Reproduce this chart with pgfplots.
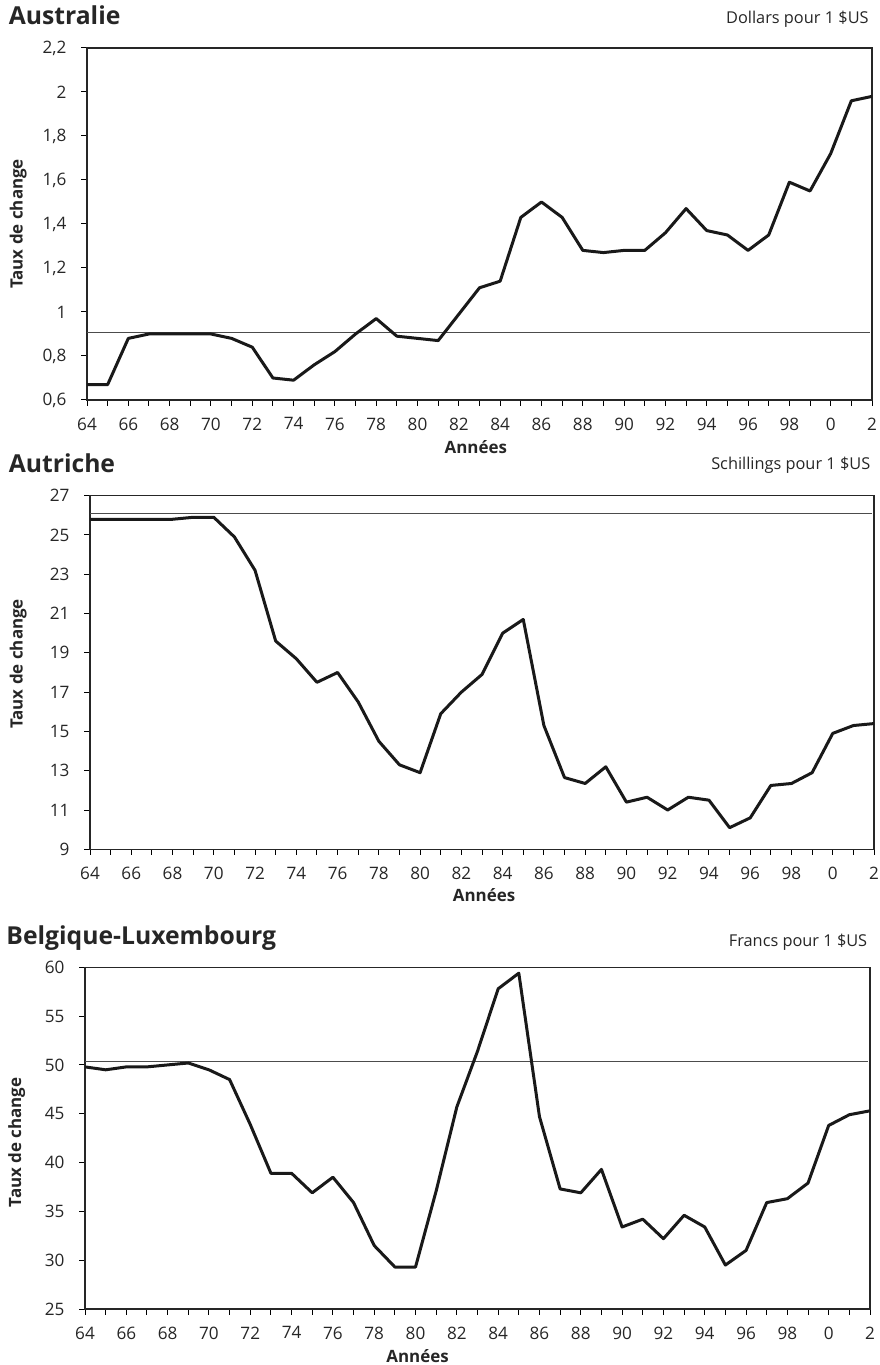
\documentclass[border=0pt]{standalone}
\usepackage{pgfplots}
\pgfplotsset{compat=1.18}
\usepackage{pgfplotstable}
\usepackage{fontspec}
\setmainfont{Open Sans}

\pgfplotstableread{
year val
64 0.67
65 0.67
66 0.88
67 0.90
68 0.90
69 0.90
70 0.90
71 0.88
72 0.84
73 0.70
74 0.69
75 0.76
76 0.82
77 0.90
78 0.97
79 0.89
80 0.88
81 0.87
82 0.99
83 1.11
84 1.14
85 1.43
86 1.50
87 1.43
88 1.28
89 1.27
90 1.28
91 1.28
92 1.36
93 1.47
94 1.37
95 1.35
96 1.28
97 1.35
98 1.59
99 1.55
100 1.72
101 1.96
102 1.98
}\australie

\pgfplotstableread{
year val
64 25.8
65 25.8
66 25.8
67 25.8
68 25.8
69 25.9
70 25.9
71 24.9
72 23.2
73 19.6
74 18.7
75 17.5
76 18.0
77 16.5
78 14.5
79 13.3
80 12.9
81 15.9
82 17.0
83 17.9
84 20.0
85 20.7
86 15.3
87 12.65
88 12.35
89 13.2
90 11.4
91 11.65
92 11.0
93 11.65
94 11.5
95 10.1
96 10.6
97 12.25
98 12.35
99 12.9
100 14.9
101 15.3
102 15.4
}\autriche

\pgfplotstableread{
year val
64 49.8
65 49.5
66 49.8
67 49.8
68 50.0
69 50.2
70 49.5
71 48.5
72 43.9
73 38.9
74 38.9
75 36.9
76 38.5
77 35.9
78 31.5
79 29.3
80 29.3
81 37.1
82 45.7
83 51.4
84 57.8
85 59.4
86 44.7
87 37.3
88 36.9
89 39.3
90 33.4
91 34.2
92 32.2
93 34.6
94 33.4
95 29.5
96 31.0
97 35.9
98 36.3
99 37.9
100 43.8
101 44.9
102 45.3
}\belgique

\pgfplotsset{
  common/.style={
    scale only axis,
    anchor=south west,
    xmin=64, xmax=102,
    xtick={64,66,...,102},
    xticklabels={64,66,68,70,72,74,76,78,80,82,84,86,88,90,92,94,96,98,0,2},
    minor xtick={65,67,...,101},
    xtick pos=bottom, ytick pos=left,
    tick align=outside,
    major tick length=2.8bp, minor tick length=2.8bp,
    every tick/.style={black, line width=0.5bp},
    every minor tick/.style={black, line width=0.5bp},
    axis line style={black!85, line width=0.6bp},
    ticklabel style={font=\fontsize{8.6}{9}\selectfont, text=black!85},
    xticklabel style={yshift=-2.5bp},
    yticklabel style={xshift=-4bp},
    /pgf/number format/assume math mode=true,
    /pgf/number format/use comma,
  },
  dataline/.style={black!90, line width=1.5bp, line join=round},
  refline/.style={black!70, line width=0.6bp},
}

\begin{document}
\begin{tikzpicture}
\useasboundingbox (0,0) rectangle (440bp,682.5bp);

% ---------- Australie ----------
\begin{axis}[common, at={(43.5bp,482.5bp)}, width=392.5bp, height=176bp,
  ymin=0.6, ymax=2.2, ytick={0.6,0.8,1,1.2,1.4,1.6,1.8,2,2.2}]
\addplot[refline] coordinates {(64,0.906) (101.9,0.906)};
\addplot[dataline] table[x=year,y=val] {\australie};
\end{axis}
\node[anchor=base west, inner sep=0, font=\bfseries\fontsize{12.4}{14}\selectfont, text=black!85] at (4.2bp,670bp) {Australie};
\node[anchor=base east, inner sep=0, font=\fontsize{8.2}{10}\selectfont, text=black!85] at (434.5bp,670.8bp) {Dollars pour 1 \$US};
\node[anchor=base, inner sep=0, font=\bfseries\fontsize{8.5}{10}\selectfont, text=black!85] at (237.9bp,455.8bp) {Années};
\node[anchor=base, rotate=90, inner sep=0, font=\bfseries\fontsize{8.5}{10}\selectfont, text=black!85] at (11.3bp,570.5bp) {Taux de change};

% ---------- Autriche ----------
\begin{axis}[common, at={(45bp,257.85bp)}, width=392bp, height=176.8bp,
  ymin=9, ymax=27, ytick={9,11,...,27}]
\addplot[refline] coordinates {(64,26.1) (101.9,26.1)};
\addplot[dataline] table[x=year,y=val] {\autriche};
\end{axis}
\node[anchor=base west, inner sep=0, font=\bfseries\fontsize{12.4}{14}\selectfont, text=black!85] at (4.2bp,446.3bp) {Autriche};
\node[anchor=base east, inner sep=0, font=\fontsize{8.2}{10}\selectfont, text=black!85] at (435.3bp,447.5bp) {Schillings pour 1 \$US};
\node[anchor=base, inner sep=0, font=\bfseries\fontsize{8.5}{10}\selectfont, text=black!85] at (242bp,231.7bp) {Années};
\node[anchor=base, rotate=90, inner sep=0, font=\bfseries\fontsize{8.5}{10}\selectfont, text=black!85] at (11.3bp,350.5bp) {Taux de change};

% ---------- Belgique-Luxembourg ----------
\begin{axis}[common, at={(42.5bp,28bp)}, width=392.5bp, height=170.85bp,
  ymin=25, ymax=60, ytick={25,30,...,60}]
\addplot[refline] coordinates {(64,50.35) (101.9,50.35)};
\addplot[dataline] table[x=year,y=val] {\belgique};
\end{axis}
\node[anchor=base west, inner sep=0, font=\bfseries\fontsize{12.4}{14}\selectfont, text=black!85] at (3bp,210bp) {Belgique-Luxembourg};
\node[anchor=base east, inner sep=0, font=\fontsize{8.2}{10}\selectfont, text=black!85] at (433.8bp,209.2bp) {Francs pour 1 \$US};
\node[anchor=base, inner sep=0, font=\bfseries\fontsize{8.5}{10}\selectfont, text=black!85] at (208.75bp,1.2bp) {Années};
\node[anchor=base, rotate=90, inner sep=0, font=\bfseries\fontsize{8.5}{10}\selectfont, text=black!85] at (10.5bp,111.25bp) {Taux de change};
\end{tikzpicture}
\end{document}
